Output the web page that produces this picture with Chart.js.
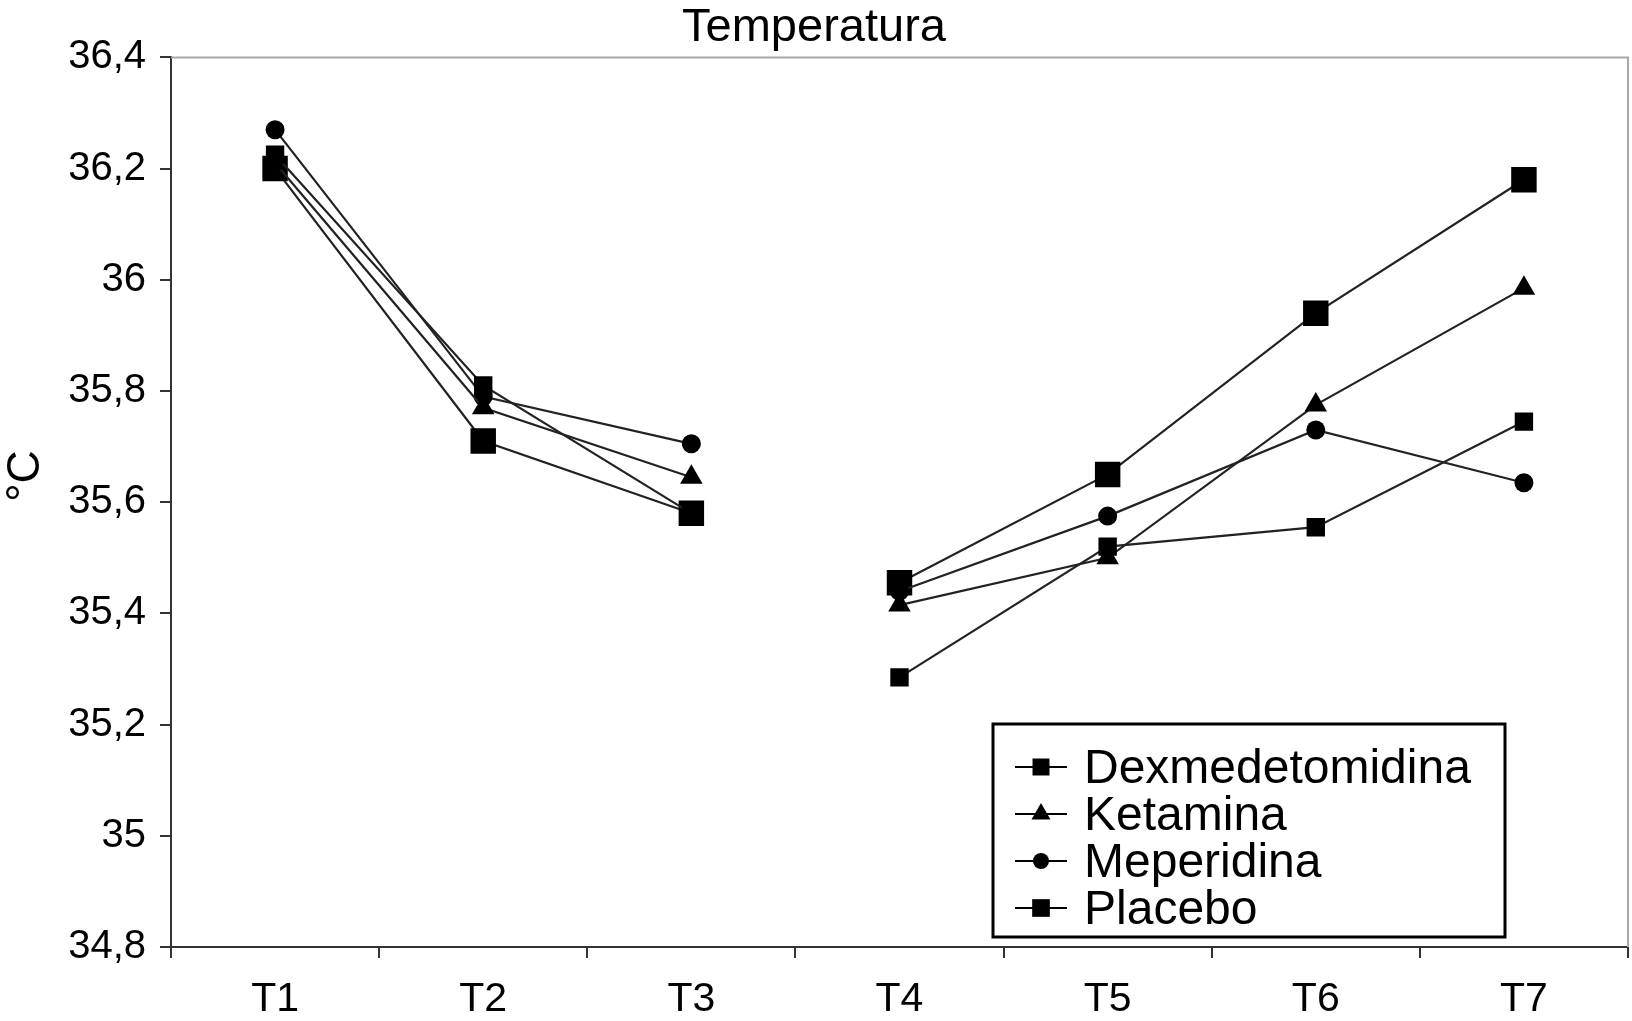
<!DOCTYPE html>
<html>
<head>
<meta charset="utf-8">
<script src="https://cdn.jsdelivr.net/npm/chart.js@4.4.1/dist/chart.umd.min.js"></script>
<style>
  html, body { margin: 0; padding: 0; background: #fff; }
</style>
</head>
<body>
<canvas id="tempChart" width="1632" height="1021"></canvas>
<script>
const times = ['T1', 'T2', 'T3', 'T4', 'T5', 'T6', 'T7'];
const dexmedetomidina = [36.225, 35.81, 35.58, 35.285, 35.52, 35.555, 35.745];
const ketamina = [36.21, 35.77, 35.645, 35.415, 35.50, 35.775, 35.985];
const meperidina = [36.27, 35.79, 35.705, 35.44, 35.575, 35.73, 35.635];
const placebo = [36.20, 35.71, 35.58, 35.455, 35.65, 35.94, 36.18];
const yMin = 34.8;
const yMax = 36.4;
const yStep = 0.2;

const FONT = "'Liberation Sans', Arial, Helvetica, sans-serif";
Chart.defaults.font.family = FONT;
Chart.defaults.color = '#000';

// the curve is broken between T3 and T4
const gapAfter = 2;
const lineSeg = {
  borderColor: c => c.p0DataIndex === gapAfter ? 'rgba(0,0,0,0)' : undefined
};

function series(label, data, style, radius, legendRadius) {
  return {
    label: label,
    data: data,
    borderColor: '#222',
    borderWidth: 2.2,
    pointStyle: style,
    pointRadius: radius,
    pointBackgroundColor: '#000',
    pointBorderColor: '#000',
    pointBorderWidth: 0,
    legendRadius: legendRadius,
    segment: lineSeg,
    tension: 0
  };
}

// light frame on top/right of the plot area
const frame = {
  id: 'frame',
  beforeDatasetsDraw(chart) {
    const a = chart.chartArea, ctx = chart.ctx;
    ctx.save();
    ctx.strokeStyle = '#a8a8a8';
    ctx.lineWidth = 2;
    ctx.beginPath();
    ctx.moveTo(a.left, a.top);
    ctx.lineTo(a.right, a.top);
    ctx.lineTo(a.right, a.bottom);
    ctx.stroke();
    ctx.restore();
  }
};

// y title drawn by hand so it sits where the original has it
const yTitle = {
  id: 'yTitle',
  afterDraw(chart) {
    const ctx = chart.ctx;
    ctx.save();
    ctx.translate(26, 476);
    ctx.rotate(-Math.PI / 2);
    ctx.font = '46px ' + FONT;
    ctx.fillStyle = '#000';
    ctx.textAlign = 'center';
    ctx.textBaseline = 'middle';
    ctx.fillText('°C', 0, 0);
    ctx.restore();
  }
};

// boxed legend inside the plot, line + marker per entry
const boxLegend = {
  id: 'boxLegend',
  afterDraw(chart) {
    const ctx = chart.ctx;
    const x0 = 993, y0 = 724, w = 512, h = 213;
    ctx.save();
    ctx.fillStyle = '#fff';
    ctx.fillRect(x0, y0, w, h);
    ctx.strokeStyle = '#000';
    ctx.lineWidth = 3;
    ctx.strokeRect(x0, y0, w, h);
    ctx.font = '48px ' + FONT;
    ctx.textBaseline = 'alphabetic';
    chart.data.datasets.forEach((ds, i) => {
      const y = 767 + i * 47;
      ctx.strokeStyle = '#000';
      ctx.lineWidth = 2;
      ctx.beginPath();
      ctx.moveTo(1015, y);
      ctx.lineTo(1067, y);
      ctx.stroke();
      ctx.fillStyle = '#000';
      Chart.helpers.drawPoint(ctx, {pointStyle: ds.pointStyle, radius: ds.legendRadius, rotation: 0, borderWidth: 0}, 1041, y);
      ctx.fillStyle = '#000';
      ctx.fillText(ds.label, 1084, y + 16);
    });
    ctx.restore();
  }
};

new Chart(document.getElementById('tempChart').getContext('2d'), {
  type: 'line',
  data: {
    labels: times,
    datasets: [
      series('Dexmedetomidina', dexmedetomidina, 'rect', 13, 12),
      series('Ketamina', ketamina, 'triangle', 13, 11),
      series('Meperidina', meperidina, 'circle', 9.5, 8),
      series('Placebo', placebo, 'rect', 18, 12.5)
    ]
  },
  options: {
    responsive: false,
    animation: false,
    devicePixelRatio: 1,
    layout: { autoPadding: false, padding: { right: 4 } },
    plugins: {
      legend: { display: false },
      tooltip: { enabled: false },
      title: {
        display: true,
        text: 'Temperatura',
        color: '#000',
        font: { size: 47, weight: 'normal' },
        padding: { top: 0, bottom: 1 }
      }
    },
    scales: {
      x: {
        offset: true,
        grid: { offset: true, drawOnChartArea: false, color: '#333', tickLength: 11, lineWidth: 2 },
        border: { color: '#333', width: 2 },
        ticks: { font: { size: 41 }, color: '#000', padding: 17 },
        afterFit: s => { s.height = 74; }
      },
      y: {
        min: yMin,
        max: yMax,
        grid: { drawOnChartArea: false, color: '#333', tickLength: 11, lineWidth: 2 },
        border: { color: '#333', width: 2 },
        ticks: {
          stepSize: yStep,
          font: { size: 40 },
          color: '#000',
          padding: 14,
          callback: v => String(+v.toFixed(1)).replace('.', ',')
        },
        afterFit: s => { s.width = 171; }
      }
    }
  },
  plugins: [frame, yTitle, boxLegend]
});
</script>
</body>
</html>
